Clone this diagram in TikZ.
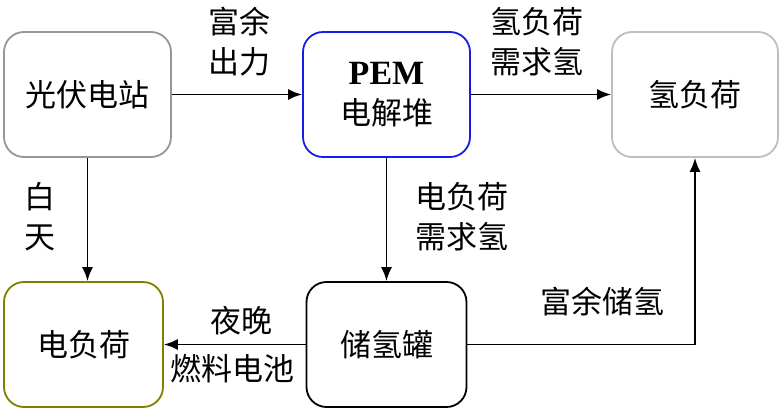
\documentclass[tikz,border=0pt]{standalone}
\usepackage{fontspec}
\setmainfont{Liberation Serif}
\newfontfamily\cjk{Noto Sans CJK SC}
\usetikzlibrary{arrows.meta}
\definecolor{pvgray}{RGB}{150,150,150}
\definecolor{hgray}{RGB}{190,190,190}
\definecolor{pemblue}{RGB}{20,30,230}
\definecolor{olivec}{RGB}{128,128,0}
\begin{document}
\begin{tikzpicture}[x=1pt,y=-1pt,
  box/.style={draw,line width=1.8pt,rounded corners=20pt,minimum height=125pt,inner sep=0pt,align=center,font=\cjk\fontsize{31}{40}\selectfont},
  lab/.style={align=center,inner sep=0pt,font=\cjk\fontsize{31}{40}\selectfont},
  conn/.style={line width=1.8pt,-{Latex[length=14pt,width=11pt]}}]
\useasboundingbox (0,0) rectangle (782,409);
\node[box,draw=pvgray,minimum width=167pt] (pv) at (87.5,94.5) {光伏电站};
\node[box,draw=pemblue,minimum width=167pt] (pem) at (386.5,94.5) {{\rmfamily\bfseries\fontsize{34}{40}\selectfont PEM}\\电解堆};
\node[box,draw=hgray,minimum width=166pt] (h2) at (695,94.5) {氢负荷};
\node[box,draw=olivec,minimum width=159pt] (el) at (83.5,344.5) {电负荷};
\node[box,draw=black,minimum width=160pt] (tank) at (386.5,344.5) {储氢罐};
\coordinate (corner) at (h2.south |- tank.east);
\draw[conn] (pv.east) -- (pem.west);
\draw[conn] (pem.east) -- (h2.west);
\draw[conn] (pv.south) -- (el.north -| pv.south);
\draw[conn] (pem.south) -- (tank.north);
\draw[conn] (tank.west) -- (el.east);
\draw[conn] (tank.east) -- (corner) -- (h2.south);
\node[lab] (l1) at (239,42) {富余\\出力};
\node[lab] (l2) at (537,42) {氢负荷\\需求氢};
\node[lab] (l3) at (40,217) {白\\天};
\node[lab] (l4) at (462,217) {电负荷\\需求氢};
\node[lab] (l5) at (241,321) {夜晚};
\node[lab] (l6) at (232,369) {燃料电池};
\node[lab] (l7) at (602,302) {富余储氢};
\end{tikzpicture}
\end{document}
